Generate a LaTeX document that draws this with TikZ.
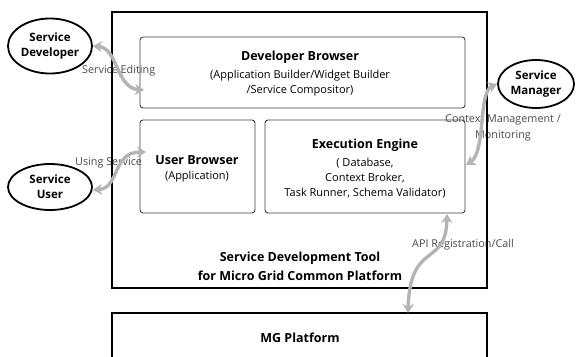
\documentclass[tikz,border=0pt]{standalone}
\usepackage{fontspec}
\setmainfont{Open Sans}
\usetikzlibrary{arrows.meta,shapes.geometric}
\definecolor{boxgray}{HTML}{404040}
\definecolor{arrgray}{HTML}{B4B4B4}
\definecolor{lblgray}{HTML}{4A4A4A}
\tikzset{
  outerbox/.style={draw=black,line width=1.8pt},
  innerbox/.style={draw=boxgray,line width=0.9pt,rounded corners=3pt},
  actor/.style={draw=black,line width=1.8pt,ellipse,inner sep=0pt,font=\fontsize{11.5}{15}\selectfont\bfseries,align=center},
  title/.style={font=\fontsize{12.5}{15}\selectfont\bfseries},
  sub/.style={font=\fontsize{11}{15}\selectfont,align=center},
  lbl/.style={text=lblgray,font=\fontsize{10.8}{15.5}\selectfont,align=left,inner sep=0pt},
  flow/.style={draw=arrgray,line width=3.4pt,{Stealth[length=9pt,width=11pt]}-{Stealth[length=9pt,width=11pt]}},
}
\begin{document}
\begin{tikzpicture}[x=1pt,y=-1pt]
\useasboundingbox (0,0) rectangle (580,356);
\fill[white] (0,0) rectangle (580,356);
% arrow labels (under the arrows)
\node[lbl,anchor=west] (leditl) at (82,71) {Service Editing};
\node[lbl,anchor=west] (lusel) at (75,163) {Using Service};
\node[lbl,anchor=west,align=center] (lctx) at (445,128) {Context Management /\\Monitoring};
\node[lbl,anchor=west] (lapi) at (412,245) {API Registration/Call};
% boxes
\draw[outerbox] (112,12) rectangle (487,288);
\draw[outerbox] (112,358) -- (112,313) -- (487,313) -- (487,358);
\node[innerbox,minimum width=325pt,minimum height=71pt] (devb) at (302.5,72.5) {};
\node[innerbox,minimum width=115pt,minimum height=93pt] (userb) at (197.5,166.5) {};
\node[innerbox,minimum width=200pt,minimum height=93pt] (exec) at (365,166.5) {};
\node[title] (devbt) at (300,57) {Developer Browser};
\node[sub] (devbs) at (300,83) {(Application Builder/Widget Builder\\/Service Compositor)};
\node[title] (userbt) at (197,160) {User Browser};
\node[sub] (userbs) at (197,177) {(Application)};
\node[title] (exect) at (365,145) {Execution Engine};
\node[sub] (execs) at (365,178) {( Database,\\Context Broker,\\Task Runner, Schema Validator)};
\node[title,align=center,font=\fontsize{12.5}{19}\selectfont\bfseries] (sdt) at (300,266.5) {Service Development Tool\\for Micro Grid Common Platform};
\node[title] (mg) at (300,338) {MG Platform};
% actors
\node[actor,minimum width=84pt,minimum height=55pt] (sdev) at (50,46) {Service\\Developer};
\node[actor,minimum width=84pt,minimum height=46pt] (suser) at (50,187) {Service\\User};
\node[actor,minimum width=76pt,minimum height=48pt] (smgr) at (536,84) {Service\\Manager};
% connector endpoints
\coordinate (devin) at (144,90);
\coordinate (userin) at (146,152);
\coordinate (userout) at (93,190);
\coordinate (execout) at (466,165);
\coordinate (apitop) at (447,214);
\coordinate (mgtop) at (408,313);
% connectors
\draw[flow] (sdev.east) .. controls (118,48) and (116,88) .. (devin);
\draw[flow] (userout) .. controls (120,188) and (112,152) .. (userin);
\draw[flow] (execout) .. controls (486,152) and (478,92) .. (smgr.west);
\draw[flow] (apitop) .. controls (446,268) and (410,240) .. (mgtop);
\end{tikzpicture}
\end{document}
